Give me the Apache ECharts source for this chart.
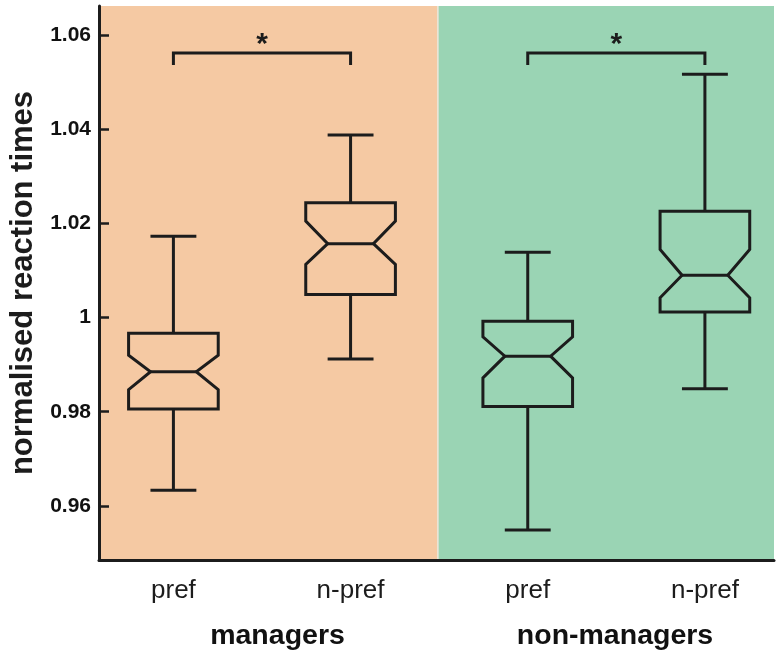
<!DOCTYPE html>
<html>
<head>
<meta charset="utf-8">
<style>
  html, body { margin: 0; padding: 0; background: #ffffff; }
  #chart { width: 782px; height: 653px; }
</style>
<script src="https://cdn.jsdelivr.net/npm/echarts@6/dist/echarts.min.js"></script>
</head>
<body>
<div id="chart"></div>
<script>
// ---------------- data ----------------
const categories   = ['pref', 'n-pref', 'pref', 'n-pref'];
const groups       = ['managers', 'non-managers'];
const whiskerLow   = [0.9633, 0.9912, 0.9549, 0.9849];
const q1           = [0.9806, 1.0049, 0.9811, 1.0012];
const notchLow     = [0.9847, 1.0113, 0.9872, 1.0042];
const median       = [0.9885, 1.0157, 0.9918, 1.0090];
const notchHigh    = [0.9920, 1.0205, 0.9959, 1.0145];
const q3           = [0.9967, 1.0244, 0.9992, 1.0226];
const whiskerHigh  = [1.0173, 1.0388, 1.0139, 1.0517];
const yTicks       = [0.96, 0.98, 1.00, 1.02, 1.04, 1.06];
const yMin = 0.9485, yMax = 1.0662;
const regionBounds = [[0.58, 2.49], [2.49, 4.39]];
const sigPairs     = [[1, 2], [3, 4]];
const sigLabels    = ['*', '*'];
const sigLevel     = 1.0562;

// ---------------- styles ----------------
const FONT = '"Liberation Sans", Arial, Helvetica, sans-serif';
const INK = '#1c1c1c';
const regionColors = ['#F5C9A3', '#9AD4B4'];
const BOX_W = 0.506, NOTCH_RATIO = 0.51, CAP_W = 0.259, LW = 3;

const boxData = categories.map((c, i) => [i + 1, whiskerLow[i], q1[i], notchLow[i], median[i], notchHigh[i], q3[i], whiskerHigh[i]]);
const regionData = regionBounds.map((b, i) => [b[0], b[1], i]);
const sigData = sigPairs.map((p, i) => [p[0], p[1], sigLevel, i]);

function renderRegion(params, api) {
  const cs = params.coordSys;
  const x0 = api.coord([api.value(0), yMin])[0];
  const x1 = api.coord([api.value(1), yMin])[0];
  const idx = api.value(2);
  const children = [{
    type: 'rect',
    shape: { x: x0, y: cs.y, width: x1 - x0, height: cs.height },
    style: { fill: regionColors[idx] }
  }];
  if (idx > 0) {
    children.push({
      type: 'line',
      shape: { x1: x0 + 0.5, y1: cs.y, x2: x0 + 0.5, y2: cs.y + cs.height },
      style: { stroke: '#EFE6DA', lineWidth: 1.5 }
    });
  }
  return { type: 'group', children };
}

function renderBox(params, api) {
  const x = api.value(0);
  const px = k => api.coord([x, api.value(k)]);
  const cx = px(4)[0];
  const yWL = px(1)[1], yQ1 = px(2)[1], yNL = px(3)[1], yMed = px(4)[1],
        yNH = px(5)[1], yQ3 = px(6)[1], yWH = px(7)[1];
  const hw = api.size([BOX_W, 0])[0] / 2;
  const nw = hw * NOTCH_RATIO;
  const cw = api.size([CAP_W, 0])[0] / 2;
  const st = { stroke: INK, lineWidth: LW, fill: null, lineJoin: 'miter' };
  return {
    type: 'group',
    children: [
      { type: 'polygon', shape: { points: [
          [cx - hw, yQ3], [cx + hw, yQ3], [cx + hw, yNH], [cx + nw, yMed], [cx + hw, yNL],
          [cx + hw, yQ1], [cx - hw, yQ1], [cx - hw, yNL], [cx - nw, yMed], [cx - hw, yNH]
        ] }, style: st },
      { type: 'line', shape: { x1: cx - nw, y1: yMed, x2: cx + nw, y2: yMed }, style: st },
      { type: 'line', shape: { x1: cx, y1: yQ3, x2: cx, y2: yWH }, style: st },
      { type: 'line', shape: { x1: cx, y1: yQ1, x2: cx, y2: yWL }, style: st },
      { type: 'line', shape: { x1: cx - cw, y1: yWH, x2: cx + cw, y2: yWH }, style: st },
      { type: 'line', shape: { x1: cx - cw, y1: yWL, x2: cx + cw, y2: yWL }, style: st }
    ]
  };
}

function renderSig(params, api) {
  const a = api.coord([api.value(0), api.value(2)]);
  const b = api.coord([api.value(1), api.value(2)]);
  const leg = 12;
  const st = { stroke: INK, lineWidth: LW, fill: null, lineJoin: 'miter' };
  return {
    type: 'group',
    children: [
      { type: 'polyline', shape: { points: [[a[0], a[1] + leg], [a[0], a[1]], [b[0], b[1]], [b[0], b[1] + leg]] }, style: st },
      { type: 'text', style: {
          text: sigLabels[api.value(3)], x: (a[0] + b[0]) / 2, y: a[1] - 8,
          align: 'center', verticalAlign: 'middle',
          font: 'bold 30px ' + FONT, fill: INK
        } }
    ]
  };
}

const chart = echarts.init(document.getElementById('chart'), null, { renderer: 'canvas' });
chart.setOption({
  animation: false,
  backgroundColor: '#ffffff',
  grid: { left: 97, right: 8, top: 6, bottom: 93, containLabel: false },
  xAxis: {
    type: 'value',
    min: regionBounds[0][0], max: regionBounds[regionBounds.length - 1][1],
    axisLine: { show: true, onZero: false, lineStyle: { color: INK, width: 3 } },
    axisTick: { show: false },
    splitLine: { show: false },
    axisLabel: {
      customValues: categories.map((c, i) => i + 1),
      formatter: v => categories[Math.round(v) - 1],
      fontFamily: FONT, fontSize: 26, color: INK, margin: 18
    }
  },
  yAxis: {
    type: 'value',
    min: yMin, max: yMax,
    name: 'normalised reaction times',
    nameLocation: 'middle', nameRotate: 90, nameGap: 60,
    nameTextStyle: { fontFamily: FONT, fontSize: 31, fontWeight: 'bold', color: INK },
    axisLine: { show: true, onZero: false, lineStyle: { color: INK, width: 3 } },
    axisTick: { show: true, inside: true, length: 10, customValues: yTicks, lineStyle: { color: INK, width: 2.5 } },
    splitLine: { show: false },
    axisLabel: {
      customValues: yTicks,
      formatter: v => String(parseFloat(Number(v).toFixed(2))),
      fontFamily: FONT, fontSize: 21, fontWeight: 'bold', color: '#111', margin: 8
    }
  },
  graphic: [
    { type: 'text', x: 277.5, y: 636, z: 10,
      style: { text: groups[0], font: 'bold 28.5px ' + FONT, fill: '#111', align: 'center', verticalAlign: 'middle' } },
    { type: 'text', x: 615, y: 636, z: 10,
      style: { text: groups[1], font: 'bold 28.5px ' + FONT, fill: '#111', align: 'center', verticalAlign: 'middle' } }
  ],
  series: [
    { type: 'custom', name: 'regions', renderItem: renderRegion, data: regionData, z: 0, silent: true,
      encode: { x: [0, 1] } },
    { type: 'custom', name: 'boxes', renderItem: renderBox, data: boxData, z: 2,
      encode: { x: 0, y: [1, 2, 3, 4, 5, 6, 7] } },
    { type: 'custom', name: 'significance', renderItem: renderSig, data: sigData, z: 3,
      encode: { x: [0, 1], y: 2 } }
  ]
});
</script>
</body>
</html>
